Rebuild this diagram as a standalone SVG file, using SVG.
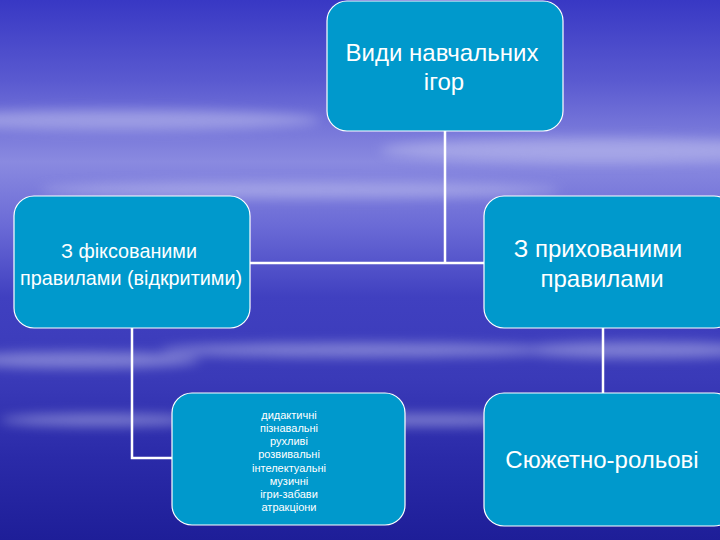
<svg xmlns="http://www.w3.org/2000/svg" width="720" height="540" viewBox="0 0 720 540">
<defs>
<linearGradient id="bg" x1="0" y1="0" x2="0" y2="1">
<stop offset="0" stop-color="#3838c4"/>
<stop offset="0.15" stop-color="#5a5ad0"/>
<stop offset="0.3" stop-color="#8a8ae0"/>
<stop offset="0.42" stop-color="#6a6ad6"/>
<stop offset="0.55" stop-color="#4040c0"/>
<stop offset="0.7" stop-color="#3a3ab8"/>
<stop offset="0.85" stop-color="#2a2aa8"/>
<stop offset="1" stop-color="#1e1e98"/>
</linearGradient>
<filter id="blur" x="-20%" y="-50%" width="140%" height="200%"><feGaussianBlur stdDeviation="6"/></filter>
<style>
.box{fill:#0099cc;stroke:#ffffff;stroke-width:1.2}
.t{fill:#ffffff;font-family:"Liberation Sans",Arial,sans-serif;text-anchor:middle}
.c{stroke:#ffffff;stroke-width:2.5;fill:none}
</style>
</defs>
<rect width="720" height="540" fill="url(#bg)"/>
<g filter="url(#blur)" fill="#c8c8f0" opacity="0.5">
<ellipse cx="120" cy="120" rx="200" ry="10"/>
<ellipse cx="600" cy="150" rx="220" ry="12"/>
<ellipse cx="300" cy="190" rx="260" ry="8"/>
<ellipse cx="80" cy="360" rx="120" ry="8"/>
<ellipse cx="360" cy="350" rx="200" ry="7"/>
<ellipse cx="640" cy="350" rx="120" ry="8"/>
<ellipse cx="100" cy="420" rx="100" ry="6"/>
<ellipse cx="420" cy="420" rx="160" ry="6"/>
</g>
<g id="connectors">
<polyline class="c" points="445,131 445,263"/>
<polyline class="c" points="250,263 484,263"/>
<polyline class="c" points="603,328 603,393"/>
<polyline class="c" points="132,328 132,458 172,458"/>
</g>
<g id="root">
<rect class="box" x="327" y="1" width="236" height="130" rx="20"/>
<text class="t" font-size="24" x="442" y="61">Види навчальних</text>
<text class="t" font-size="24" x="444" y="90">ігор</text>
</g>
<g id="fixed">
<rect class="box" x="14" y="196" width="236" height="132" rx="20"/>
<text class="t" font-size="19.8" x="129" y="258">З фіксованими</text>
<text class="t" font-size="19.8" x="131" y="285">правилами (відкритими)</text>
</g>
<g id="hidden">
<rect class="box" x="484" y="196" width="250" height="132" rx="20"/>
<text class="t" font-size="24" x="598" y="257">З прихованими</text>
<text class="t" font-size="24" x="602" y="287">правилами</text>
</g>
<g id="list">
<rect class="box" x="172" y="393" width="233" height="132" rx="20"/>
<g class="t" font-size="11">
<text x="289" y="419">дидактичні</text>
<text x="289" y="432">пізнавальні</text>
<text x="289" y="445">рухливі</text>
<text x="289" y="458">розвивальні</text>
<text x="289" y="472">інтелектуальні</text>
<text x="289" y="485">музичні</text>
<text x="289" y="498">ігри-забави</text>
<text x="289" y="511">атракціони</text>
</g>
</g>
<g id="plot">
<rect class="box" x="484" y="393" width="250" height="133" rx="20"/>
<text class="t" font-size="24" x="602" y="468">Сюжетно-рольові</text>
</g>
</svg>
